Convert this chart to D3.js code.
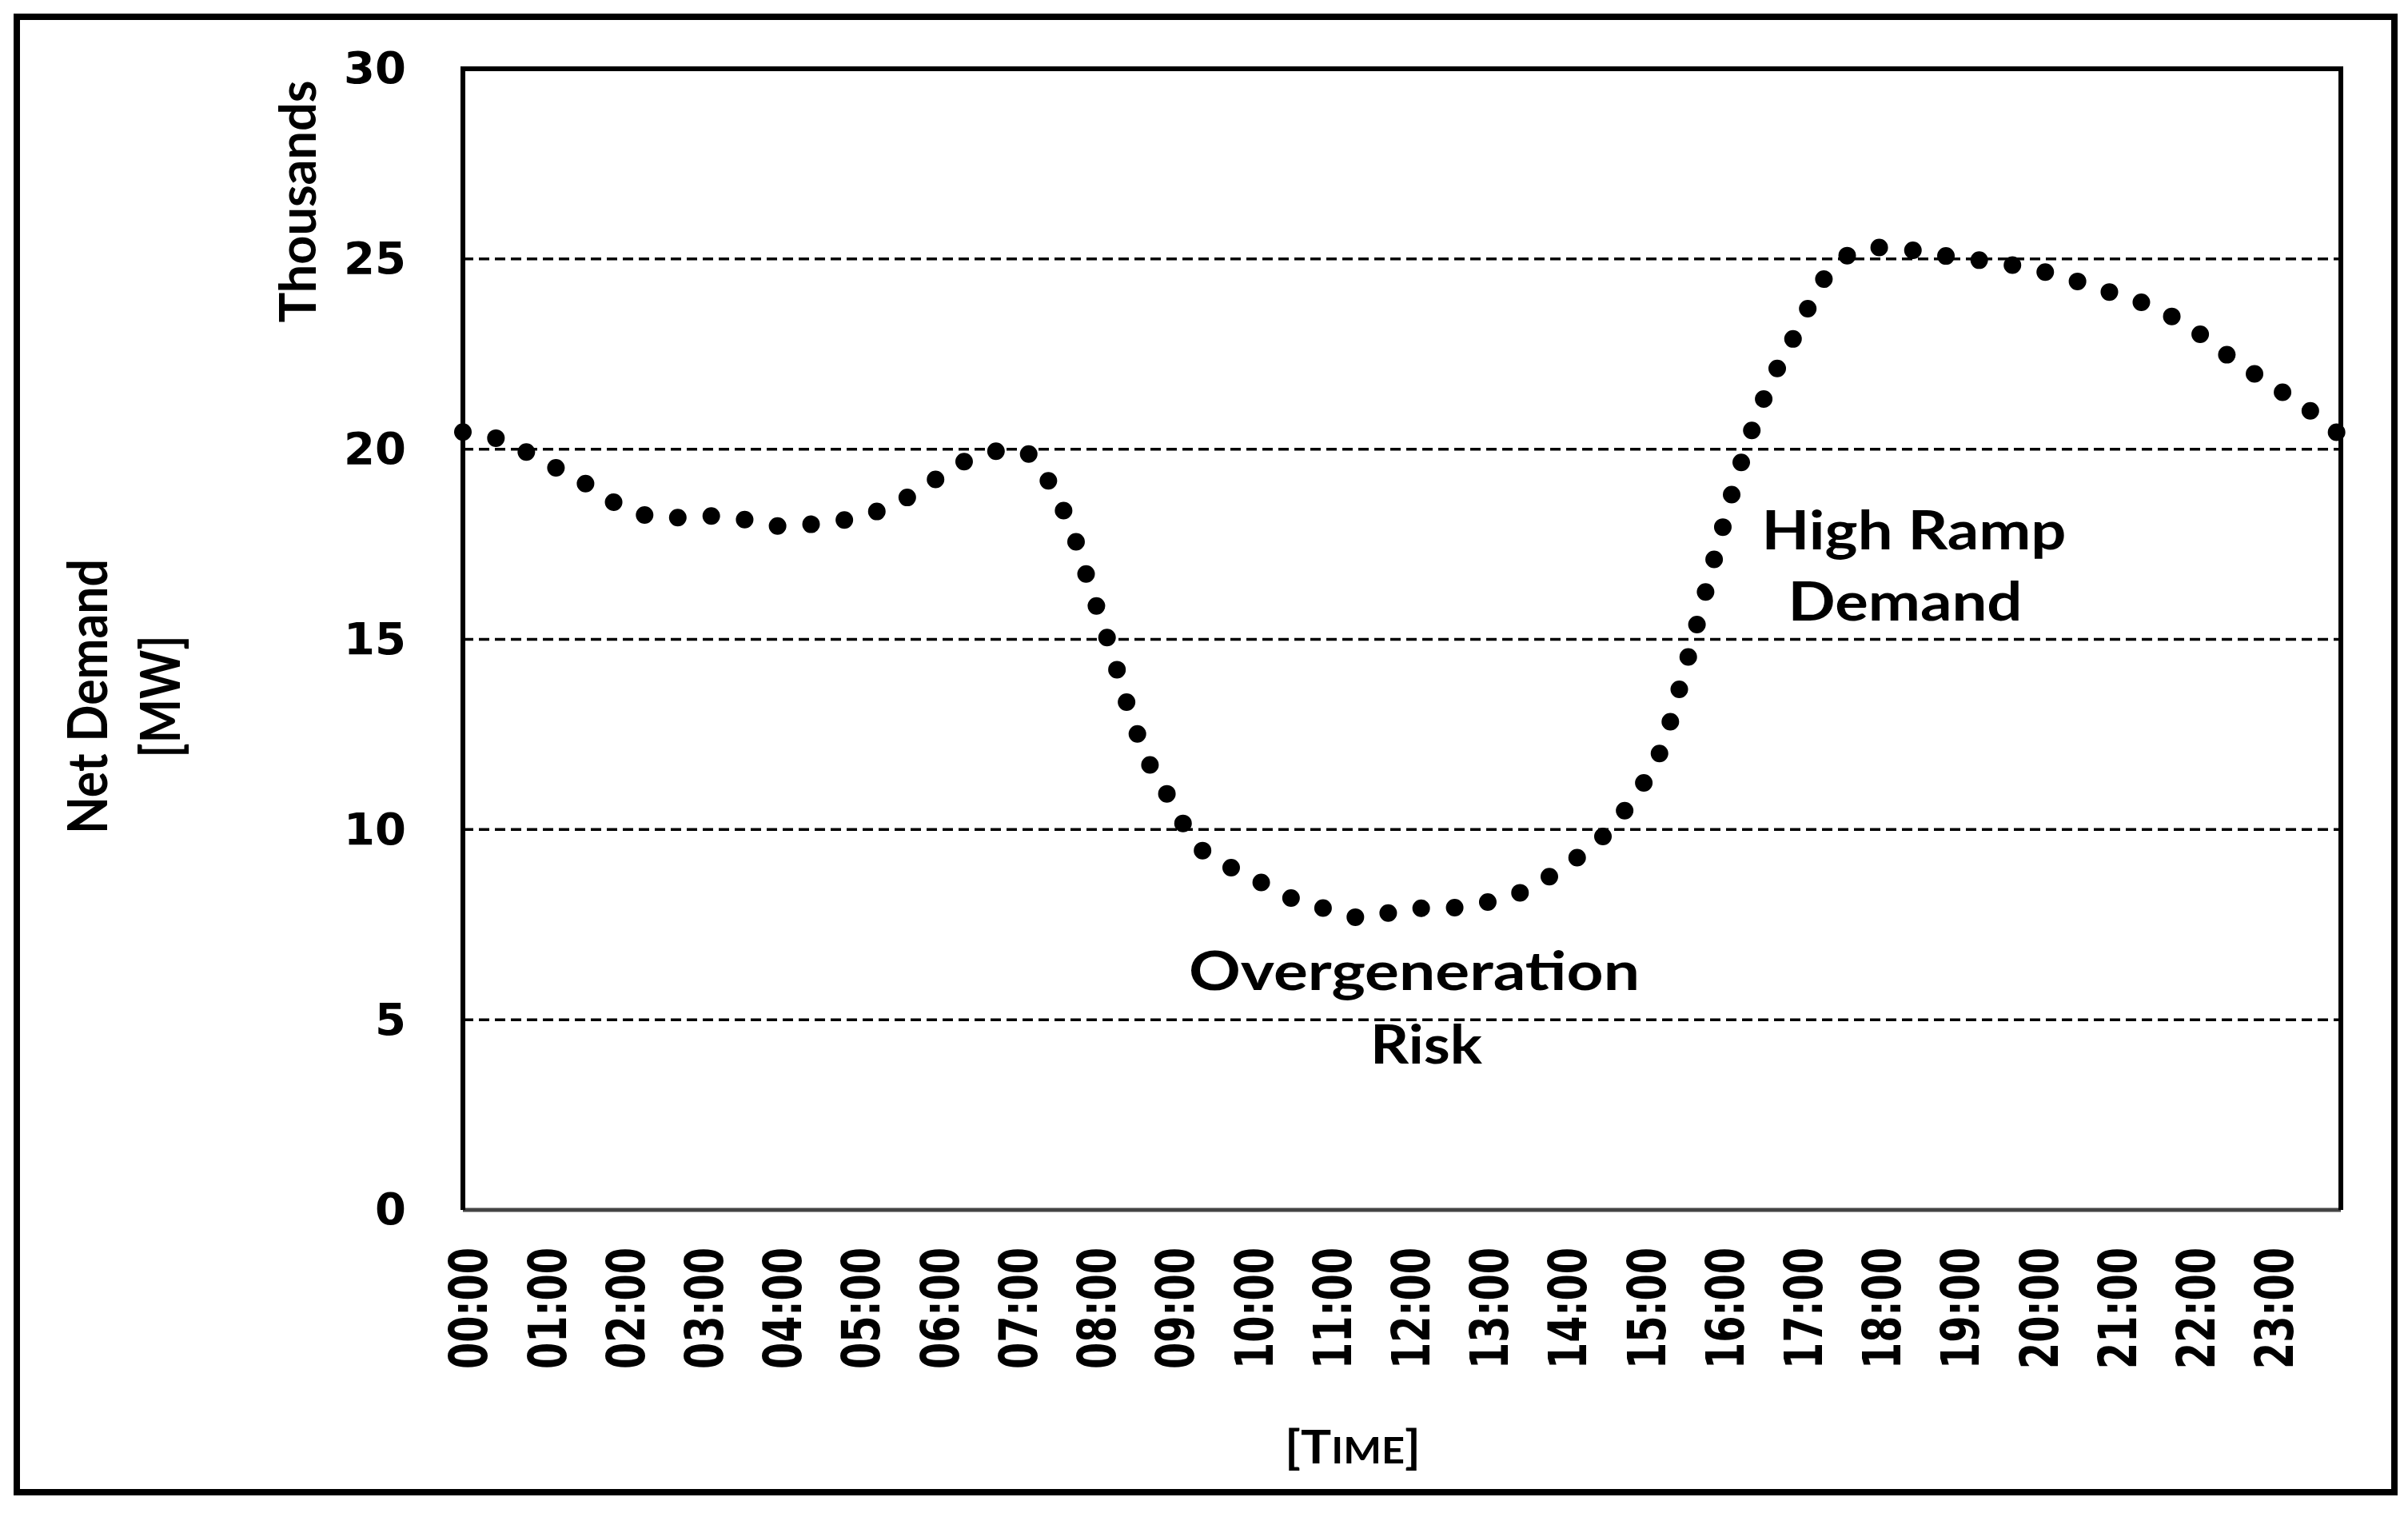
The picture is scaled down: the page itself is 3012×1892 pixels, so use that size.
<!DOCTYPE html>
<html>
<head>
<meta charset="utf-8">
<script src="https://cdn.jsdelivr.net/npm/d3@7"></script>
<style>
  body { margin: 0; background: #fff; }
  .tick-y { font-family: "DejaVu Sans", sans-serif; font-weight: bold; font-size: 56px; }
  .tick-x { font-family: "DejaVu Sans", sans-serif; font-weight: bold; font-size: 66px; }
  .label { font-family: Lato, "Open Sans", sans-serif; font-weight: bold; }
</style>
</head>
<body>
<svg id="chart" width="3012" height="1892"></svg>
<script>
// net demand, thousands of MW
const times = ["00:00","00:30","01:00","01:30","02:00","02:30","03:00","03:30","04:00","04:30",
  "05:00","05:30","06:00","06:30","07:00","07:15","07:30","07:45","08:00","08:15","08:30","08:45",
  "09:00","09:15","09:30","10:00","10:30","11:00","11:30","12:00","12:30","13:00","13:30","14:00",
  "14:30","15:00","15:15","15:30","15:45","16:00","16:15","16:30","16:45","17:00","17:15","17:30",
  "17:45","18:00","18:30","19:00","19:30","20:00","20:30","21:00","21:30","22:00","22:30","23:00",
  "23:30","23:55"];
const netDemand = [20.45,20.24,19.70,19.17,18.52,18.19,18.25,18.18,17.98,18.04,
  18.20,18.55,19.18,19.78,19.98,19.81,19.00,17.90,16.30,14.75,13.05,11.70,
  10.82,9.90,9.30,8.80,8.24,7.91,7.67,7.92,7.92,8.07,8.37,8.99,
  9.78,11.10,12.05,13.75,15.65,17.60,19.45,20.97,22.17,23.13,24.19,24.90,
  25.20,25.30,25.22,25.04,24.92,24.73,24.45,24.11,23.76,23.20,22.43,21.73,
  21.05,20.35];
const hourLabels = d3.range(24).map(h => (h < 10 ? "0" + h : "" + h) + ":00");
const yTicks = [0, 5, 10, 15, 20, 25, 30];

const svg = d3.select("#chart");

const plotL = 579, plotR = 2928, plotT = 86, plotB = 1513;

let toHours = s => +s.slice(0, 2) + (+s.slice(3)) / 60;
let data = times.map((t, i) => ({ t: toHours(t), v: netDemand[i] }));

let x = d3.scaleLinear().domain([0, toHours("23:55")]).range([plotL, plotR]);
let y = d3.scaleLinear().domain([0, 30]).range([plotB, plotT]);

// outer frame
svg.append("rect")
    .attr("x", 21).attr("y", 21)
    .attr("width", 2974).attr("height", 1845)
    .attr("fill", "none")
    .attr("stroke", "#000")
    .attr("stroke-width", 8);

// dashed gridlines
svg.append("g")
    .selectAll("line")
    .data(yTicks.filter(d => d > 0 && d < 30))
    .enter()
    .append("line")
    .attr("x1", plotL).attr("x2", plotR)
    .attr("y1", d => y(d)).attr("y2", d => y(d))
    .attr("stroke", "#000")
    .attr("stroke-width", 3.5)
    .attr("stroke-dasharray", "13,7");

// the round-dot line
let line = d3.line()
    .x(d => x(d.t))
    .y(d => y(d.v))
    .curve(d3.curveCatmullRom);

svg.append("path")
    .datum(data)
    .attr("d", line)
    .attr("fill", "none")
    .attr("stroke", "#000")
    .attr("stroke-width", 22)
    .attr("stroke-linecap", "round")
    .attr("stroke-dasharray", "0 42");

// plot frame
svg.append("line").attr("x1", plotL).attr("x2", plotR).attr("y1", plotB).attr("y2", plotB)
    .attr("stroke", "#444").attr("stroke-width", 5);
svg.append("polyline")
    .attr("points", `${plotL},${plotB} ${plotL},${plotT} ${plotR},${plotT} ${plotR},${plotB}`)
    .attr("fill", "none")
    .attr("stroke", "#000")
    .attr("stroke-width", 6);

// y axis labels
let yAxis = d3.axisLeft(y).tickValues(yTicks).tickSize(0).tickPadding(71);
let gy = svg.append("g").attr("transform", `translate(${plotL},0)`).call(yAxis);
gy.select(".domain").remove();
gy.selectAll("text").attr("class", "tick-y").attr("fill", "#000");

// x axis labels, rotated and narrowed
svg.append("g")
    .selectAll("text")
    .data(hourLabels)
    .enter()
    .append("text")
    .attr("class", "tick-x")
    .attr("transform", (d, i) => `translate(${x(i)},1560) rotate(-90) scale(0.724,1)`)
    .attr("text-anchor", "end")
    .attr("dy", "0.46em")
    .text(d => d);

// axis titles
function rotLabel(txt, bx, cy, len, size) {
  svg.append("text")
      .attr("class", "label")
      .attr("transform", `translate(${bx},${cy}) rotate(-90)`)
      .attr("text-anchor", "middle")
      .attr("font-size", size)
      .attr("textLength", len)
      .attr("lengthAdjust", "spacingAndGlyphs")
      .text(txt);
}
rotLabel("Thousands", 395, 252, 303, 64);
rotLabel("Net Demand", 134, 871, 344, 68);
rotLabel("[MW]", 225, 871, 153, 68);

let timeLabel = svg.append("text")
    .attr("class", "label")
    .attr("x", 1692).attr("y", 1830)
    .attr("text-anchor", "middle")
    .attr("font-size", 58)
    .attr("textLength", 170)
    .attr("lengthAdjust", "spacingAndGlyphs");
timeLabel.append("tspan").text("[T");
timeLabel.append("tspan").attr("font-size", 46).text("IME");
timeLabel.append("tspan").text("]");

// annotations
const notes = [
  { text: "High Ramp", cx: 2394, by: 687, len: 381 },
  { text: "Demand", cx: 2383, by: 776, len: 293 },
  { text: "Overgeneration", cx: 1769, by: 1238, len: 564 },
  { text: "Risk", cx: 1784, by: 1330, len: 140 }
];
svg.append("g")
    .selectAll("text")
    .data(notes)
    .enter()
    .append("text")
    .attr("class", "label")
    .attr("x", d => d.cx)
    .attr("y", d => d.by)
    .attr("text-anchor", "middle")
    .attr("font-size", 66)
    .attr("textLength", d => d.len)
    .attr("lengthAdjust", "spacingAndGlyphs")
    .text(d => d.text);
</script>
</body>
</html>
